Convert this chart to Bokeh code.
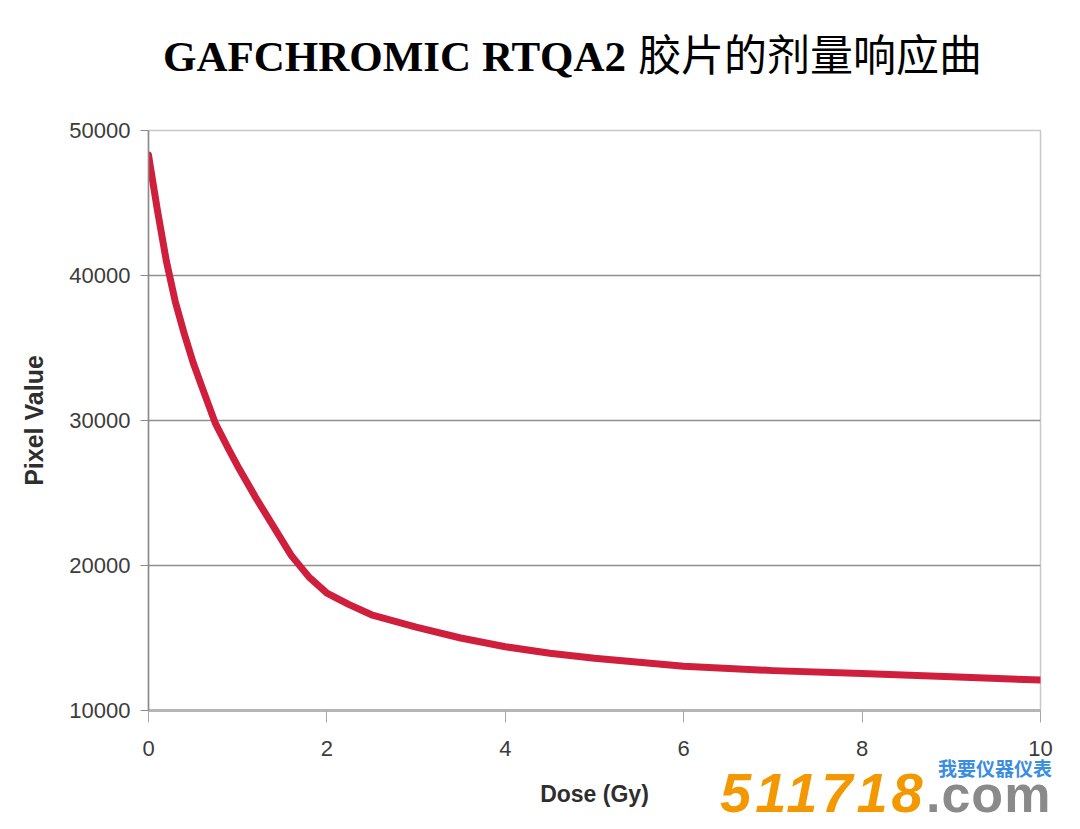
from bokeh.plotting import figure
from bokeh.models import FixedTicker, Range1d, Div, InlineStyleSheet
from bokeh.layouts import column
from bokeh.embed import file_html
from bokeh.resources import INLINE

# Data
dose = [0.0, 0.1, 0.2, 0.3, 0.4, 0.5, 0.6, 0.75, 0.9, 1.0, 1.2, 1.4, 1.6, 1.8,
        2.0, 2.25, 2.5, 3.0, 3.5, 4.0, 4.5, 5.0, 6.0, 7.0, 8.0, 9.0, 10.0]
pixel_value = [48300, 44500, 41000, 38200, 36000, 34000, 32300, 29800, 28000, 26850,
               24700, 22700, 20700, 19200, 18100, 17300, 16600, 15750, 15000, 14400,
               13950, 13600, 13050, 12750, 12550, 12330, 12100]
x_ticks = [0, 2, 4, 6, 8, 10]
y_ticks = [10000, 20000, 30000, 40000, 50000]

title_latin = "GAFCHROMIC RTQA2"
title_cjk = "胶片的剂量响应曲"
x_label = "Dose (Gy)"
y_label = "Pixel Value"

p = figure(width=1064, height=813, output_backend="svg", toolbar_location=None,
           x_range=Range1d(0, 10), y_range=Range1d(10000, 50000),
           min_border_left=148, min_border_right=24, min_border_top=130,
           min_border_bottom=103, background_fill_color="white",
           border_fill_color="white")

p.outline_line_color = "#c8c8c8"
p.outline_line_width = 1.5

p.xgrid.visible = False
p.ygrid.grid_line_color = "#8f8f8f"
p.ygrid.grid_line_width = 1.3

p.xaxis.ticker = FixedTicker(ticks=x_ticks)
p.yaxis.ticker = FixedTicker(ticks=y_ticks)

for ax in (p.xaxis, p.yaxis):
    ax.major_label_text_font = "Liberation Sans"
    ax.major_label_text_font_size = "22px"
    ax.major_label_text_color = "#3c3c3c"
    ax.axis_label_text_font = "Liberation Sans"
    ax.axis_label_text_font_style = "bold"
    ax.axis_label_text_color = "#2e2e2e"
    ax.minor_tick_line_color = None
    ax.major_tick_in = 0

p.xaxis.axis_label = x_label
p.yaxis.axis_label = y_label
p.xaxis.axis_label_text_font_size = "23px"
p.yaxis.axis_label_text_font_size = "25px"

p.xaxis.axis_line_color = "#b5b5b5"
p.xaxis.axis_line_width = 3
p.xaxis.major_tick_line_color = "#a8a8a8"
p.xaxis.major_tick_out = 12
p.xaxis.major_label_standoff = 18
p.xaxis.axis_label_standoff = 22

p.yaxis.axis_line_color = "#8a8a8a"
p.yaxis.axis_line_width = 1.5
p.yaxis.major_tick_line_color = "#8a8a8a"
p.yaxis.major_tick_out = 8
p.yaxis.major_label_standoff = 10
p.yaxis.axis_label_standoff = 18

p.line(dose, pixel_value, line_width=7, line_color="#cf1f3d",
       line_cap="round", line_join="round")

# Title overlay (bold serif Latin followed by the Chinese part)
title_html = (
    '<div style="white-space:nowrap;line-height:1;color:black;">'
    '<span style="font:bold 43px \'Liberation Serif\';">' + title_latin + '</span>'
    '<span style="font:normal 43px \'Noto Sans CJK SC\';margin-left:12px;">' + title_cjk + '</span>'
    '</div>'
)
title_css = InlineStyleSheet(css=":host { position: absolute !important; left: 158px !important; "
                                 "top: 16px !important; z-index: 10; }")
title_div = Div(text=title_html, width=840, height=56, stylesheets=[title_css])

# Watermark overlay (site stamp in the lower right of the reference)
wm_html = (
    '<div style="position:relative;width:350px;height:62px;">'
    '<span style="position:absolute;left:0px;top:3px;font:italic bold 56px \'Liberation Sans\';'
    'letter-spacing:4px;line-height:1;color:#f39800;white-space:nowrap;">511718</span>'
    '<span style="position:absolute;left:206px;top:12px;font:bold 52px \'Liberation Sans\';'
    'letter-spacing:1px;line-height:0.8;color:#8a8a8a;white-space:nowrap;">.com</span>'
    '<span style="position:absolute;left:218px;top:-4px;font:bold 19px \'Noto Sans CJK SC\';'
    'line-height:1;color:#3a8ee0;white-space:nowrap;">我要仪器仪表</span>'
    '</div>'
)
wm_css = InlineStyleSheet(css=":host { position: absolute !important; left: 715px !important; "
                              "top: 757px !important; z-index: 10; }")
wm = Div(text=wm_html, width=350, height=62, stylesheets=[wm_css])

layout = column(p, title_div, wm)

open("out.html", "w").write(file_html(layout, INLINE))
